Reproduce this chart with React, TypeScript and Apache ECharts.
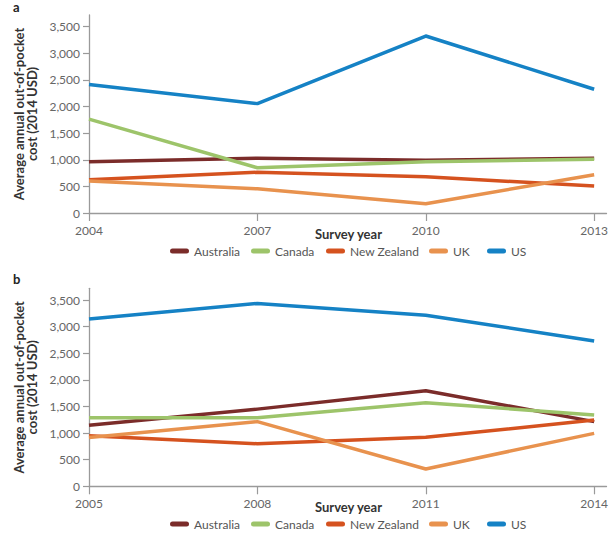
import React, { useEffect, useRef } from "react";
import * as echarts from "echarts";

const countries = ["Australia", "Canada", "New Zealand", "UK", "US"];
const colors = ["#7b2c2a", "#9dc46a", "#d5521f", "#e8924e", "#1582c5"];

const yearsA = [2004, 2007, 2010, 2013];
const australiaA = [965, 1030, 990, 1030];
const canadaA = [1765, 850, 965, 1010];
const newZealandA = [625, 765, 680, 505];
const ukA = [600, 455, 175, 720];
const usA = [2415, 2055, 3325, 2325];

const yearsB = [2005, 2008, 2011, 2014];
const australiaB = [1145, 1450, 1795, 1215];
const canadaB = [1290, 1290, 1570, 1340];
const newZealandB = [950, 800, 920, 1245];
const ukB = [915, 1215, 325, 995];
const usB = [3145, 3435, 3215, 2730];

const yTicks = [0, 500, 1000, 1500, 2000, 2500, 3000, 3500];
const yTitle = "Average annual out-of-pocket\ncost (2014 USD)";
const xTitle = "Survey year";

const FONT = "Lato, 'Open Sans', sans-serif";

export default function App() {
  const ref = useRef<HTMLDivElement>(null);
  useEffect(() => {
    if (!ref.current) return;
    const chart = echarts.init(ref.current, null, { renderer: "svg" });
    const seriesA = [australiaA, canadaA, newZealandA, ukA, usA];
    const seriesB = [australiaB, canadaB, newZealandB, ukB, usB];
    const axisLine = { show: true, lineStyle: { color: "#9a9a9a", width: 1.3 } };
    const mkX = (idx: number, years: number[]) => ({
      type: "value",
      gridIndex: idx,
      min: years[0],
      max: years[0] + 9.22,
      axisLine: { ...axisLine, onZero: false },
      splitLine: { show: false },
      axisTick: { show: true, length: 8, customValues: years, lineStyle: { color: "#9a9a9a", width: 1.2 } },
      axisLabel: {
        customValues: years,
        formatter: (v: number) => String(v),
        color: "#666",
        fontFamily: FONT,
        fontSize: 12,
        margin: 11,
      },
    });
    const mkY = (idx: number) => ({
      type: "value",
      gridIndex: idx,
      min: 0,
      max: 3720,
      axisLine,
      splitLine: { show: false },
      axisTick: { show: true, length: 6, customValues: yTicks, lineStyle: { color: "#9a9a9a", width: 1.2 } },
      axisLabel: {
        customValues: yTicks,
        formatter: (v: number) => v.toLocaleString("en-US"),
        color: "#666",
        fontFamily: FONT,
        fontSize: 12,
        margin: 9,
      },
      name: yTitle,
      nameLocation: "middle",
      nameGap: 42,
      nameTextStyle: { fontFamily: FONT, fontWeight: "bold", fontSize: 13, color: "#333", lineHeight: 13 },
    });
    const mkSeries = (idx: number, years: number[], data: number[][]) =>
      countries.map((c, i) => ({
        type: "line",
        name: c,
        xAxisIndex: idx,
        yAxisIndex: idx,
        data: years.map((y, j) => [y, data[i][j]]),
        showSymbol: false,
        symbol: "none",
        lineStyle: { color: colors[i], width: 3.5, join: "round" },
        itemStyle: { color: colors[i] },
        z: i === 4 ? 3 : 2,
      }));
    const icon = "path://M2.5,0 H16.5 A2.5,2.5 0 0 1 16.5,5 H2.5 A2.5,2.5 0 0 1 2.5,0 Z";
    const legendLefts = [170, 251, 326, 429, 487];
    const mkLegends = (top: number) =>
      countries.map((c, i) => ({
        data: [{ name: c, icon }],
        left: legendLefts[i],
        top,
        itemWidth: 19,
        itemHeight: 5,
        itemGap: 0,
        textStyle: { fontFamily: FONT, fontSize: 12, color: "#555" },
        selectedMode: false,
        padding: 0,
      }));
    chart.setOption({
      animation: false,
      color: colors,
      grid: [
        { left: 89, top: 15, width: 517.5, height: 198 },
        { left: 89, top: 288.3, width: 517.5, height: 198 },
      ],
      xAxis: [mkX(0, yearsA), mkX(1, yearsB)],
      yAxis: [mkY(0), mkY(1)],
      legend: [...mkLegends(245), ...mkLegends(518)],
      series: [...mkSeries(0, yearsA, seriesA), ...mkSeries(1, yearsB, seriesB)],
      graphic: [
        { type: "text", left: 13, top: 0, style: { text: "a", font: `bold 13px ${FONT}`, fill: "#222" } },
        { type: "text", left: 13, top: 272, style: { text: "b", font: `bold 13px ${FONT}`, fill: "#222" } },
        { type: "text", left: 315, top: 227, style: { text: xTitle, font: `bold 13px ${FONT}`, fill: "#333" } },
        { type: "text", left: 315, top: 500, style: { text: xTitle, font: `bold 13px ${FONT}`, fill: "#333" } },
      ],
    });
    return () => chart.dispose();
  }, []);
  return (
    <div
      ref={ref}
      style={{ position: "absolute", left: 0, top: 0, width: 613, height: 535, background: "#fff" }}
    />
  );
}
